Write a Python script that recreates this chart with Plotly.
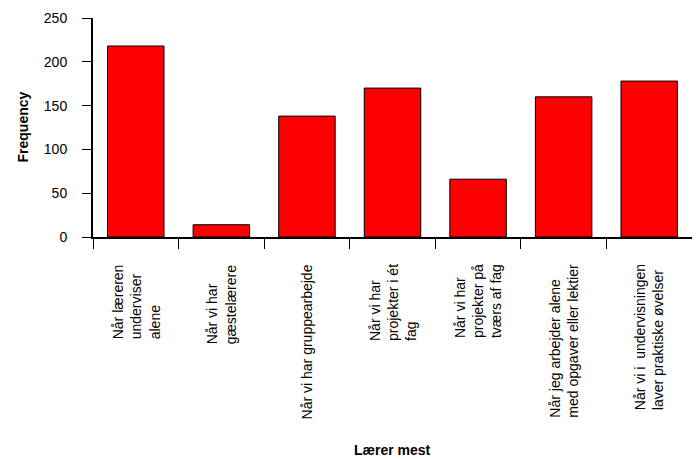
import plotly.graph_objects as go

categories = [
    "Når læreren<br>underviser<br>alene",
    "Når vi har<br>gæstelærere",
    "Når vi har gruppearbejde",
    "Når vi har<br>projekter i ét<br>fag",
    "Når vi har<br>projekter på<br>tværs af fag",
    "Når jeg arbejder alene<br>med opgaver eller lektier",
    "Når vi i  undervisningen<br>laver praktiske øvelser",
]
frequency = [218, 14, 138, 170, 66, 160, 178]
y_ticks = [0, 50, 100, 150, 200, 250]
x_title = "Lærer mest"
y_title = "Frequency"

FONT = "Liberation Sans, Arial, sans-serif"
keys = [f"c{i}" for i in range(len(categories))]

fig = go.Figure(
    go.Bar(
        x=keys,
        y=frequency,
        marker=dict(color="#ff0000", line=dict(color="black", width=1)),
        hoverinfo="y",
    )
)

for k, lab in zip(keys, categories):
    fig.add_annotation(
        x=k, xref="x", y=0, yref="paper",
        text=lab, textangle=-90, align="left",
        xanchor="center", yanchor="top", yshift=-25,
        showarrow=False,
        font=dict(family=FONT, size=14, color="black"),
    )

fig.add_annotation(
    x=0.5, xref="paper", y=0, yref="paper",
    text=f"<b>{x_title}</b>", showarrow=False,
    xanchor="center", yanchor="middle", yshift=-213,
    font=dict(family=FONT, size=14, color="black"),
)
fig.add_annotation(
    x=0, xref="paper", y=0.5, yref="paper",
    text=f"<b>{y_title}</b>", showarrow=False, textangle=-90,
    xanchor="center", yanchor="middle", xshift=-71,
    font=dict(family=FONT, size=14, color="black"),
)

# page body adds an 8px offset, so the figure is sized to fill the rest
fig.update_layout(
    width=692, height=451,
    margin=dict(l=85, r=8, t=10, b=222, autoexpand=False),
    paper_bgcolor="white", plot_bgcolor="white",
    bargap=0.34,
    showlegend=False,
    font=dict(family=FONT, size=13, color="black"),
)
fig.update_xaxes(
    showticklabels=False, tickson="boundaries",
    ticks="outside", ticklen=10, tickwidth=1, tickcolor="black",
    showline=True, linecolor="black", linewidth=2,
    showgrid=False, zeroline=False,
)
fig.update_yaxes(
    range=[0, 250], tickvals=y_ticks,
    ticks="outside", ticklen=9, tickwidth=1, tickcolor="black",
    ticklabelstandoff=12,
    showline=True, linecolor="black", linewidth=2,
    showgrid=False, zeroline=False,
    tickfont=dict(family=FONT, size=14, color="black"),
)

fig.write_html("out.html")
